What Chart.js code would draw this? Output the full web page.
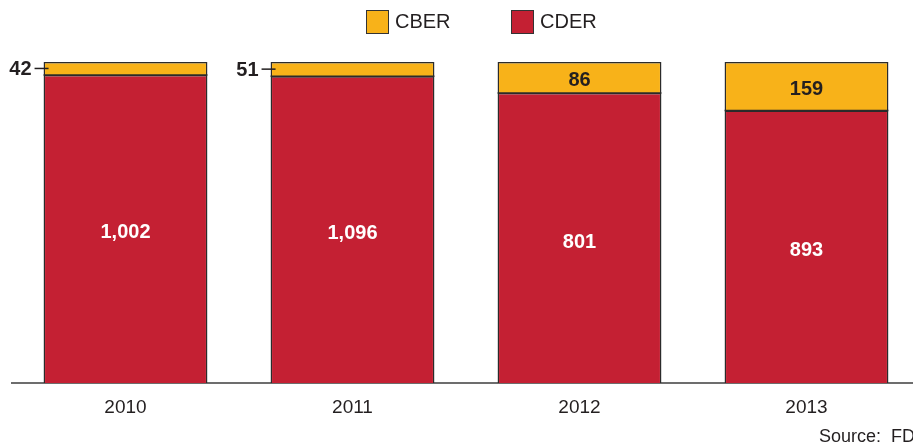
<!DOCTYPE html>
<html>
<head>
<meta charset="utf-8">
<script src="https://cdn.jsdelivr.net/npm/chart.js@4/dist/chart.umd.min.js"></script>
<style>
  html, body { margin: 0; padding: 0; background: #fff; overflow: hidden; }
  #wrap { width: 913px; height: 444px; overflow: hidden; position: relative; }
  #c { position: absolute; left: 0; top: 0; }
</style>
</head>
<body>
<div id="wrap"><canvas id="c" width="940" height="444"></canvas></div>
<script>
const years = ['2010', '2011', '2012', '2013'];
const cderCounts = [1002, 1096, 801, 893];
const cberCounts = [42, 51, 86, 159];
const seriesNames = ['CBER', 'CDER'];
const seriesColors = ['#F8B219', '#C42033'];
const sourceText = 'Source:  FDA';

const FONT = '"Liberation Sans Narrow", "Liberation Sans", Arial, sans-serif';

// Each bar is shown as the share of that year's total
const totals = years.map((_, i) => cderCounts[i] + cberCounts[i]);
const cderShare = cderCounts.map((v, i) => v / totals[i] * 100);
const cberShare = cberCounts.map((v, i) => v / totals[i] * 100);

const fmt = v => v.toLocaleString('en-US');

const overlay = {
  id: 'overlay',
  afterDatasetsDraw(chart) {
    const ctx = chart.ctx;
    const cber = chart.getDatasetMeta(1);
    const cder = chart.getDatasetMeta(0);
    ctx.save();
    // dark divider between the two segments of each bar
    ctx.strokeStyle = '#2b2b2b';
    ctx.lineWidth = 1.5;
    cber.data.forEach(bar => {
      const l = bar.x - bar.width / 2, r = bar.x + bar.width / 2;
      ctx.beginPath();
      ctx.moveTo(l, bar.base);
      ctx.lineTo(r, bar.base);
      ctx.stroke();
    });
    // CDER values, white, centred in the red segment
    ctx.font = 'bold 20px ' + FONT;
    ctx.textAlign = 'center';
    ctx.textBaseline = 'middle';
    ctx.fillStyle = '#ffffff';
    cder.data.forEach((bar, i) => {
      const mid = (bar.y + bar.base) / 2;
      ctx.fillText(fmt(cderCounts[i]), bar.x, mid + 4);
    });
    // CBER values: inside when the segment is tall enough, otherwise to the left with a leader tick
    ctx.fillStyle = '#231f20';
    cber.data.forEach((bar, i) => {
      const h = bar.base - bar.y;
      const mid = (bar.y + bar.base) / 2;
      if (h > 24) {
        ctx.textAlign = 'center';
        ctx.fillText(fmt(cberCounts[i]), bar.x, mid + 3);
      } else {
        const left = bar.x - bar.width / 2;
        ctx.textAlign = 'right';
        ctx.fillText(fmt(cberCounts[i]), left - 12, mid + 1);
        ctx.strokeStyle = '#231f20';
        ctx.lineWidth = 1.5;
        ctx.beginPath();
        ctx.moveTo(left - 9, mid);
        ctx.lineTo(left + 5, mid);
        ctx.stroke();
      }
    });
    // Legend
    ctx.font = '20px ' + FONT;
    ctx.textAlign = 'left';
    ctx.textBaseline = 'middle';
    const legendX = [366, 511];
    seriesNames.forEach((name, k) => {
      const x = legendX[k];
      ctx.fillStyle = seriesColors[k];
      ctx.fillRect(x, 10, 22, 23);
      ctx.strokeStyle = '#333';
      ctx.lineWidth = 1;
      ctx.strokeRect(x + 0.5, 10.5, 22, 23);
      ctx.fillStyle = '#231f20';
      ctx.fillText(name, x + 29, 22);
    });
    // Source line
    ctx.font = '18px ' + FONT;
    ctx.fillStyle = '#231f20';
    ctx.textAlign = 'left';
    ctx.textBaseline = 'alphabetic';
    ctx.fillText(sourceText, 819, 442);
    ctx.restore();
  }
};

new Chart(document.getElementById('c'), {
  type: 'bar',
  data: {
    labels: years,
    datasets: [
      { label: seriesNames[1], data: cderShare, backgroundColor: seriesColors[1],
        borderColor: '#2b2b2b', borderWidth: 1.5 },
      { label: seriesNames[0], data: cberShare, backgroundColor: seriesColors[0],
        borderColor: '#2b2b2b', borderWidth: 1.5 }
    ]
  },
  options: {
    responsive: false,
    animation: false,
    events: [],
    layout: { padding: { top: 62, left: 12, right: 20, bottom: 0 } },
    plugins: { legend: { display: false }, tooltip: { enabled: false } },
    datasets: { bar: { barPercentage: 0.722, categoryPercentage: 1.0, borderSkipped: 'start' } },
    scales: {
      x: {
        stacked: true,
        grid: { display: false, drawTicks: false },
        border: { display: true, color: '#6d6d6d', width: 2 },
        ticks: { padding: 13, color: '#231f20', font: { family: FONT, size: 19 } },
        afterFit(scale) { scale.height = 61; }
      },
      y: {
        stacked: true,
        display: false,
        min: 0,
        max: 100
      }
    }
  },
  plugins: [overlay]
});
</script>
</body>
</html>
